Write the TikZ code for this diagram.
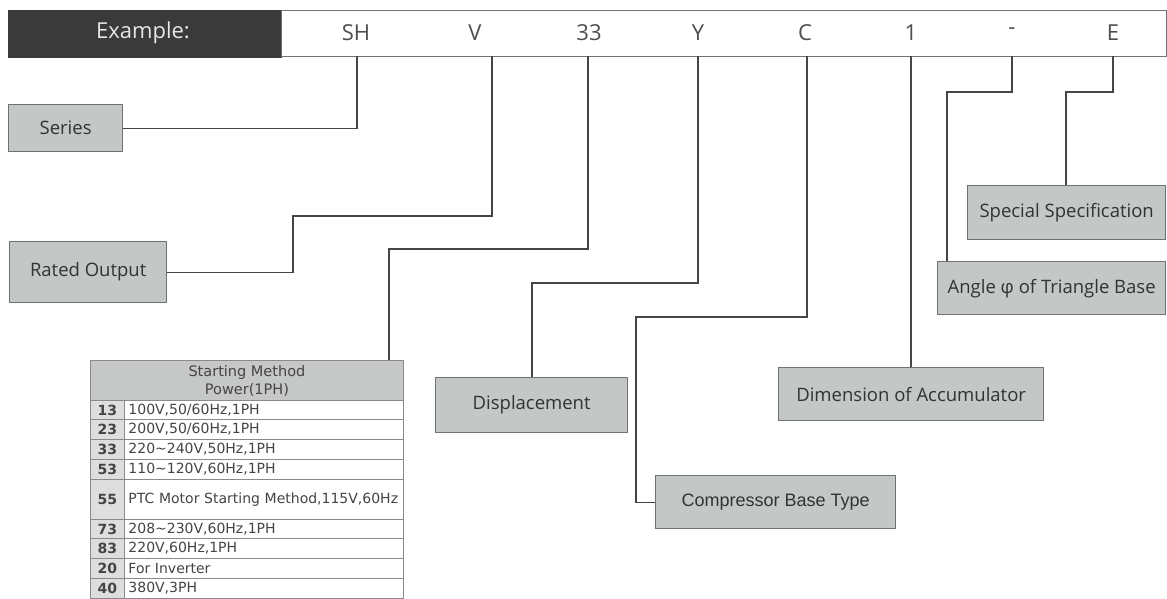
\documentclass[tikz,border=0pt]{standalone}
\usepackage{fontspec}
\setmainfont{Open Sans}
\newfontfamily\tabfont{DejaVu Sans}
\newfontfamily\arialfont{Liberation Sans}
\definecolor{boxfill}{HTML}{C3C7C6}
\definecolor{boxline}{HTML}{707272}
\definecolor{txt}{HTML}{333333}
\definecolor{conn}{HTML}{454545}
\definecolor{darkhead}{HTML}{3A3A3A}
\definecolor{headtxt}{HTML}{E6E6E6}
\definecolor{lettxt}{HTML}{4E4E4E}
\definecolor{tblline}{HTML}{8A8A8A}
\definecolor{tblhead}{HTML}{C6C8C8}
\definecolor{numfill}{HTML}{DEDEDE}
\definecolor{tbltxt}{HTML}{444444}
\begin{document}
\begin{tikzpicture}[x=1pt,y=-1pt,
  lbl/.style={draw=boxline, fill=boxfill, line width=1.3pt, text=txt,
    font=\fontsize{18.5}{22}\selectfont, inner sep=0pt, anchor=north west},
  wire/.style={draw=conn, line width=1.2pt},
  letter/.style={text=lettxt, font=\fontsize{22}{26}\selectfont, inner sep=0pt},
  numcell/.style={draw=tblline, fill=numfill, line width=0.9pt, text=tbltxt,
    font=\tabfont\bfseries\fontsize{14}{16}\selectfont, inner sep=0pt,
    anchor=north west, minimum width=34pt},
  txtcell/.style={draw=tblline, fill=white, line width=0.9pt, text=tbltxt,
    font=\tabfont\fontsize{14}{16}\selectfont, inner xsep=4pt, inner ysep=0pt,
    anchor=north west, text width=271pt, align=left}
]
\useasboundingbox (0,0) rectangle (1167,599);

% header bar
\node[draw=darkhead, fill=darkhead, line width=1pt, anchor=north west,
  minimum width=273pt, minimum height=47pt, inner sep=0pt] (exbox) at (8,10) {};
\node[text=headtxt, font=\fontsize{22}{26}\selectfont, inner sep=0pt] (extxt) at (143,33) {Example:};
\node[draw=boxline, fill=white, line width=1.1pt, anchor=north west,
  minimum width=885pt, minimum height=46pt, inner sep=0pt] (hdr) at (281,10) {};
\node[letter] (tSH) at (356,33) {SH};
\node[letter] (tV) at (475,33) {V};
\node[letter] (t33) at (589,33) {33};
\node[letter] (tY) at (698,33) {Y};
\node[letter] (tC) at (805,33) {C};
\node[letter] (t1) at (911,33) {1};
\node[letter] (tD) at (1012,31) {-};
\node[letter] (tE) at (1113,33) {E};

% start points of connectors at header bottom
\coordinate (pSH) at (357,56);
\coordinate (pV) at (492,56);
\coordinate (p33) at (588,56);
\coordinate (pY) at (698,56);
\coordinate (pC) at (807,56);
\coordinate (p1) at (911,56);
\coordinate (pD) at (1012,56);
\coordinate (pE) at (1113,56);

% label boxes
\node[lbl, minimum width=114pt, minimum height=47pt] (series) at (8,104) {Series};
\node[lbl, minimum width=157pt, minimum height=61pt] (rated) at (9,241) {Rated Output};
\node[lbl, minimum width=192pt, minimum height=55pt] (disp) at (435,377) {Displacement};
\node[lbl, minimum width=240pt, minimum height=53pt,
  font=\arialfont\fontsize{18}{22}\selectfont] (comp) at (655,475) {Compressor Base Type};
\node[lbl, minimum width=265pt, minimum height=53pt] (dim) at (778,367) {Dimension of Accumulator};
\node[lbl, minimum width=228pt, minimum height=53pt] (angle) at (937,261) {Angle φ of Triangle Base};
\node[lbl, minimum width=198pt, minimum height=54pt] (spec) at (967,185) {Special Specification};

% table
\node[draw=tblline, fill=tblhead, line width=0.9pt, anchor=north west,
  minimum width=313pt, minimum height=40pt, inner sep=0pt, align=center,
  text=tbltxt, font=\tabfont\fontsize{14.5}{18}\selectfont] (tblh) at (90,360)
  {Starting Method\\Power(1PH)};
\node[numcell, minimum height=19pt] (n13) at (90,400) {13};
\node[txtcell, minimum height=19pt] (r13) at (124,400) {100V,50/60Hz,1PH};
\node[numcell, minimum height=20pt] (n23) at (90,419) {23};
\node[txtcell, minimum height=20pt] (r23) at (124,419) {200V,50/60Hz,1PH};
\node[numcell, minimum height=20pt] (n33) at (90,439) {33};
\node[txtcell, minimum height=20pt] (r33) at (124,439) {220\textasciitilde 240V,50Hz,1PH};
\node[numcell, minimum height=20pt] (n53) at (90,459) {53};
\node[txtcell, minimum height=20pt] (r53) at (124,459) {110\textasciitilde 120V,60Hz,1PH};
\node[numcell, minimum height=40pt] (n55) at (90,479) {55};
\node[txtcell, minimum height=40pt] (r55) at (124,479) {PTC Motor Starting Method,115V,60Hz};
\node[numcell, minimum height=19pt] (n73) at (90,519) {73};
\node[txtcell, minimum height=19pt] (r73) at (124,519) {208\textasciitilde 230V,60Hz,1PH};
\node[numcell, minimum height=20pt] (n83) at (90,538) {83};
\node[txtcell, minimum height=20pt] (r83) at (124,538) {220V,60Hz,1PH};
\node[numcell, minimum height=20pt] (n20) at (90,558) {20};
\node[txtcell, minimum height=20pt] (r20) at (124,558) {For Inverter};
\node[numcell, minimum height=20pt] (n40) at (90,578) {40};
\node[txtcell, minimum height=20pt] (r40) at (124,578) {380V,3PH};

% connectors
\coordinate (kV) at (293,216);
\coordinate (k33) at (389,249);
\coordinate (kY) at (532,283);
\coordinate (kC) at (636,317);
\coordinate (kD) at (947,92);
\coordinate (kE) at (1066,92);

\draw[wire] (pSH) |- (series.east);
\draw[wire] (pV) |- (kV) |- (rated.east);
\draw[wire] (p33) |- (k33) -- (k33 |- tblh.north);
\draw[wire] (pY) |- (kY) -- (kY |- disp.north);
\draw[wire] (pC) |- (kC) |- (comp.west);
\draw[wire] (p1) -- (p1 |- dim.north);
\draw[wire] (pD) |- (kD) -- (kD |- angle.north);
\draw[wire] (pE) |- (kE) -- (kE |- spec.north);
\end{tikzpicture}
\end{document}
